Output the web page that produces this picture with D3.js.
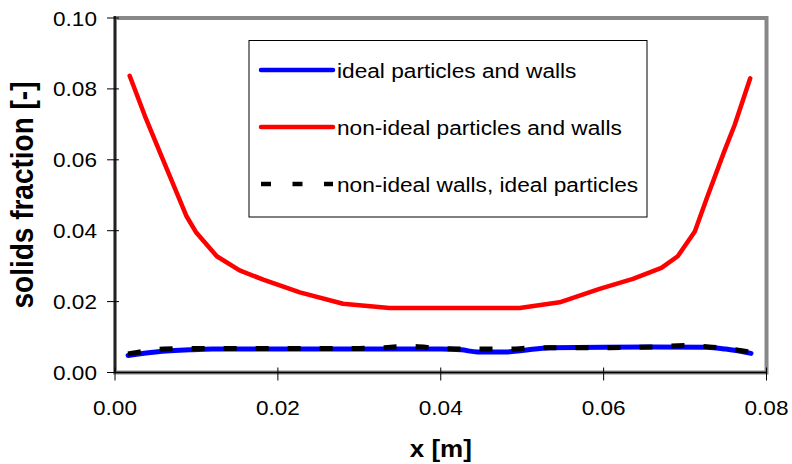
<!DOCTYPE html>
<html>
<head>
<meta charset="utf-8">
<script src="https://cdn.jsdelivr.net/npm/d3@7"></script>
<style>
  html, body { margin: 0; padding: 0; background: #fff; }
  svg { display: block; font-family: "Liberation Sans", Arial, sans-serif; }
</style>
</head>
<body>
<svg id="chart" width="792" height="464"></svg>
<script>
// ---------------- data ----------------
const xTicks = [0.00, 0.02, 0.04, 0.06, 0.08];
const yTicks = [0.00, 0.02, 0.04, 0.06, 0.08, 0.10];

const seriesNames = [
  "ideal particles and walls",
  "non-ideal particles and walls",
  "non-ideal walls, ideal particles"
];

// ideal particles and walls (blue)
const idealX = [0.0016, 0.0050, 0.0092, 0.0120, 0.0200, 0.0300, 0.0400, 0.0425, 0.0445, 0.0480, 0.0500, 0.0534, 0.0600, 0.0660, 0.0726, 0.0750, 0.0781];
const idealY = [0.0048, 0.0058, 0.0064, 0.0066, 0.0066, 0.0066, 0.0066, 0.0064, 0.0058, 0.0058, 0.0062, 0.0070, 0.0071, 0.0072, 0.0071, 0.0066, 0.0054];

// non-ideal particles and walls (red)
const nonIdealX = [0.0018, 0.0037, 0.0059, 0.0088, 0.0100, 0.0125, 0.0153, 0.0182, 0.0227, 0.0280, 0.0337, 0.0400, 0.0497, 0.0546, 0.0595, 0.0636, 0.0671, 0.0691, 0.0712, 0.0726, 0.0748, 0.0761, 0.0780];
const nonIdealY = [0.0837, 0.0722, 0.0600, 0.0440, 0.0394, 0.0328, 0.0288, 0.0262, 0.0226, 0.0194, 0.0182, 0.0182, 0.0182, 0.0198, 0.0236, 0.0264, 0.0295, 0.0328, 0.0398, 0.0487, 0.0623, 0.0699, 0.0830];

// non-ideal walls, ideal particles (black dashed)
const wallsX = [0.0016, 0.0060, 0.0100, 0.0200, 0.0300, 0.0330, 0.0360, 0.0400, 0.0440, 0.0480, 0.0520, 0.0560, 0.0600, 0.0660, 0.0700, 0.0740, 0.0780];
const wallsY = [0.0052, 0.0066, 0.0068, 0.0068, 0.0068, 0.0070, 0.0074, 0.0068, 0.0066, 0.0066, 0.0070, 0.0070, 0.0070, 0.0072, 0.0076, 0.0070, 0.0058];

// ---------------- layout ----------------
const svg = d3.select("#chart");
const L = 115, R = 766.5, T = 18, B = 372.5;
const x = d3.scaleLinear().domain([0, 0.08]).range([L, R]);
const y = d3.scaleLinear().domain([0, 0.10]).range([B, T]);
const sx = 1.13; // horizontal glyph stretch seen in the reference

// plot frame
svg.append("rect")
  .attr("x", L).attr("y", T).attr("width", R - L).attr("height", B - T)
  .attr("fill", "none").attr("stroke", "#888").attr("stroke-width", 4);

// axis lines
svg.append("line").attr("x1", L).attr("x2", L).attr("y1", T - 2).attr("y2", B)
  .attr("stroke", "#000").attr("stroke-width", 1.5);
svg.append("line").attr("x1", L).attr("x2", R).attr("y1", B).attr("y2", B)
  .attr("stroke", "#000").attr("stroke-width", 1.5);

// ticks
const fmt = d3.format(".2f");
const yAxisG = svg.append("g");
yTicks.forEach(t => {
  yAxisG.append("line").attr("x1", L - 8).attr("x2", L + 4)
    .attr("y1", y(t)).attr("y2", y(t)).attr("stroke", "#000").attr("stroke-width", 1);
  yAxisG.append("text")
    .attr("transform", `translate(97,${y(t) + 7.5}) scale(${sx},1)`)
    .attr("text-anchor", "end").attr("font-size", 20).attr("fill", "#000")
    .text(fmt(t));
});
const xAxisG = svg.append("g");
xTicks.forEach(t => {
  xAxisG.append("line").attr("x1", x(t)).attr("x2", x(t))
    .attr("y1", B - 5).attr("y2", B + 8).attr("stroke", "#000").attr("stroke-width", 1);
  xAxisG.append("text")
    .attr("transform", `translate(${x(t)},415) scale(${sx},1)`)
    .attr("text-anchor", "middle").attr("font-size", 20).attr("fill", "#000")
    .text(fmt(t));
});

// axis titles
svg.append("text")
  .attr("transform", `translate(${(L + R) / 2},457) scale(${sx},1)`)
  .attr("text-anchor", "middle").attr("font-size", 23).attr("font-weight", "bold")
  .text("x [m]");
svg.append("text")
  .attr("transform", `translate(33,195) scale(${sx},1) rotate(-90)`)
  .attr("text-anchor", "middle").attr("font-size", 28).attr("font-weight", "bold")
  .text("solids fraction [-]");

// lines
const line = d3.line().x(d => x(d[0])).y(d => y(d[1]));
const lineSmooth = d3.line().x(d => x(d[0])).y(d => y(d[1])).curve(d3.curveMonotoneX);

svg.append("path").datum(d3.zip(nonIdealX, nonIdealY))
  .attr("d", line).attr("fill", "none").attr("stroke", "#ff0000")
  .attr("stroke-width", 4.5).attr("stroke-linejoin", "round").attr("stroke-linecap", "round");
svg.append("path").datum(d3.zip(idealX, idealY))
  .attr("d", lineSmooth).attr("fill", "none").attr("stroke", "#0000ff")
  .attr("stroke-width", 5).attr("stroke-linejoin", "round").attr("stroke-linecap", "round");
svg.append("path").datum(d3.zip(wallsX, wallsY))
  .attr("d", lineSmooth).attr("fill", "none").attr("stroke", "#000")
  .attr("stroke-width", 5).attr("stroke-dasharray", "13,19");

// legend
const lg = svg.append("g");
lg.append("rect").attr("x", 249).attr("y", 40.5).attr("width", 398).attr("height", 176.5)
  .attr("fill", "#fff").attr("stroke", "#000").attr("stroke-width", 1);
const legendStyles = [
  { color: "#0000ff", dash: null, cap: "round" },
  { color: "#ff0000", dash: null, cap: "round" },
  { color: "#000", dash: "10,21.5", cap: "butt" }
];
const legendY = [70, 127, 184];
seriesNames.forEach((name, i) => {
  const st = legendStyles[i];
  lg.append("line").attr("x1", 261).attr("x2", 333)
    .attr("y1", legendY[i]).attr("y2", legendY[i])
    .attr("stroke", st.color).attr("stroke-width", 4.5)
    .attr("stroke-linecap", st.cap)
    .attr("stroke-dasharray", st.dash);
  lg.append("text")
    .attr("transform", `translate(337,${legendY[i] + 7.5}) scale(1.08,1)`)
    .attr("font-size", 21).attr("fill", "#000")
    .text(name);
});
</script>
</body>
</html>
